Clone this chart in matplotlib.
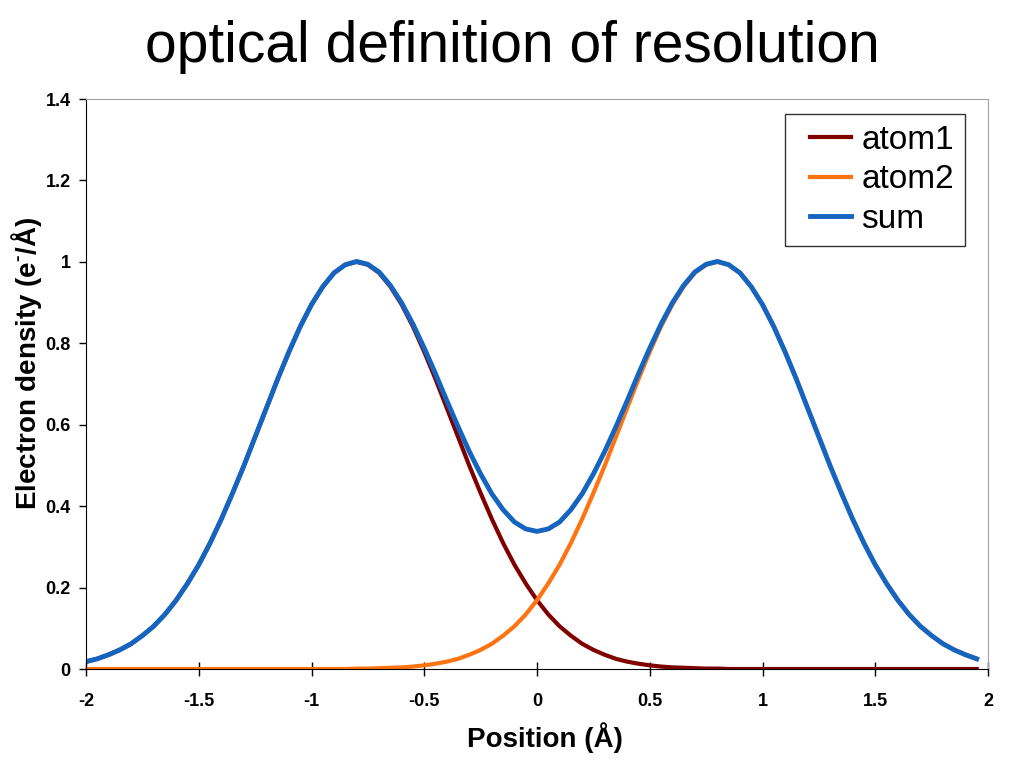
import matplotlib
matplotlib.use('Agg')
import matplotlib.pyplot as plt
from matplotlib.legend_handler import HandlerLine2D
import numpy as np

plt.rcParams['font.family'] = ['Liberation Sans', 'DejaVu Sans']
plt.rcParams['mathtext.fontset'] = 'custom'
plt.rcParams['mathtext.rm'] = 'Liberation Sans:bold'
plt.rcParams['mathtext.bf'] = 'Liberation Sans:bold'

# positions (A), step 0.05 from -2 to 1.95
position = np.round(np.arange(-2.0, 1.999, 0.05), 2)

atom1 = [0.018, 0.025, 0.035, 0.047, 0.062, 0.082, 0.105, 0.134, 0.169, 0.210,
         0.256, 0.309, 0.368, 0.432, 0.499, 0.570, 0.641, 0.712, 0.779, 0.841,
         0.895, 0.939, 0.973, 0.993, 1.000, 0.993, 0.973, 0.939, 0.895, 0.841,
         0.779, 0.712, 0.641, 0.570, 0.499, 0.432, 0.368, 0.309, 0.256, 0.210,
         0.169, 0.134, 0.105, 0.082, 0.062, 0.047, 0.035, 0.025, 0.018, 0.013,
         0.009, 0.006, 0.004, 0.003, 0.002, 0.001, 0.001, 0.0, 0.0, 0.0,
         0.0, 0.0, 0.0, 0.0, 0.0, 0.0, 0.0, 0.0, 0.0, 0.0,
         0.0, 0.0, 0.0, 0.0, 0.0, 0.0, 0.0, 0.0, 0.0, 0.0]

atom2 = [0.0, 0.0, 0.0, 0.0, 0.0, 0.0, 0.0, 0.0, 0.0, 0.0,
         0.0, 0.0, 0.0, 0.0, 0.0, 0.0, 0.0, 0.0, 0.0, 0.0,
         0.0, 0.0, 0.0, 0.0, 0.001, 0.001, 0.002, 0.003, 0.004, 0.006,
         0.009, 0.013, 0.018, 0.025, 0.035, 0.047, 0.062, 0.082, 0.105, 0.134,
         0.169, 0.210, 0.256, 0.309, 0.368, 0.432, 0.499, 0.570, 0.641, 0.712,
         0.779, 0.841, 0.895, 0.939, 0.973, 0.993, 1.000, 0.993, 0.973, 0.939,
         0.895, 0.841, 0.779, 0.712, 0.641, 0.570, 0.499, 0.432, 0.368, 0.309,
         0.256, 0.210, 0.169, 0.134, 0.105, 0.082, 0.062, 0.047, 0.035, 0.025]

total = [0.018, 0.025, 0.035, 0.047, 0.062, 0.082, 0.105, 0.134, 0.169, 0.210,
         0.256, 0.309, 0.368, 0.432, 0.499, 0.570, 0.641, 0.712, 0.779, 0.841,
         0.895, 0.939, 0.973, 0.993, 1.001, 0.994, 0.975, 0.942, 0.899, 0.847,
         0.788, 0.725, 0.659, 0.595, 0.534, 0.479, 0.430, 0.391, 0.361, 0.344,
         0.338, 0.344, 0.361, 0.391, 0.430, 0.479, 0.534, 0.595, 0.659, 0.725,
         0.788, 0.847, 0.899, 0.942, 0.975, 0.994, 1.001, 0.993, 0.973, 0.939,
         0.895, 0.841, 0.779, 0.712, 0.641, 0.570, 0.499, 0.432, 0.368, 0.309,
         0.256, 0.210, 0.169, 0.134, 0.105, 0.082, 0.062, 0.047, 0.035, 0.025]


class InsetLine(HandlerLine2D):
    # legend line drawn with some empty room on its left
    def create_artists(self, legend, orig_handle, xdescent, ydescent, width, height, fontsize, trans):
        arts = super().create_artists(legend, orig_handle, xdescent, ydescent, width, height, fontsize, trans)
        for a in arts:
            xd = np.asarray(a.get_xdata(), dtype=float)
            a.set_xdata(np.maximum(xd, xd.min() + 0.42 * fontsize))
        return arts


fig = plt.figure(figsize=(10.24, 7.68), dpi=100)
ax = fig.add_axes([86/1024, 1 - 669/768, (988-86)/1024, (669-99)/768])

ax.plot(position, atom1, color='#800000', lw=3, label='atom1')
ax.plot(position, atom2, color='#ff7410', lw=3, label='atom2')
ax.plot(position, total, color='#1565c0', lw=3.5, label='sum')

ax.set_xlim(-2, 2)
ax.set_ylim(0, 1.4)
ax.set_xticks([-2, -1.5, -1, -0.5, 0, 0.5, 1, 1.5, 2])
ax.set_xticklabels(['-2', '-1.5', '-1', '-0.5', '0', '0.5', '1', '1.5', '2'])
ax.set_yticks([0, 0.2, 0.4, 0.6, 0.8, 1, 1.2, 1.4])
ax.set_yticklabels(['0', '0.2', '0.4', '0.6', '0.8', '1', '1.2', '1.4'])
ax.tick_params(axis='x', direction='inout', length=10, width=1, pad=12, labelsize=13)
ax.tick_params(axis='y', direction='out', length=5, width=1, pad=6, labelsize=13)
for lab in ax.get_xticklabels() + ax.get_yticklabels():
    lab.set_fontweight('bold')

ax.spines['top'].set_color('#a0a0a0')
ax.spines['right'].set_color('#a0a0a0')
ax.spines['left'].set_color('black')
ax.spines['bottom'].set_color('black')

ax.set_xlabel('Position (Å)', fontsize=20, fontweight='bold', labelpad=9)
ax.xaxis.set_label_coords(0.509, -0.094)
ax.set_ylabel('Electron density (e$^{\\text{-}}$/Å)', fontsize=20, fontweight='bold')
ax.yaxis.set_label_coords(-0.047, 0.537)

leg = ax.legend(loc='upper right', bbox_to_anchor=(0.9745, 0.9737), borderaxespad=0,
                fontsize=24, frameon=True, fancybox=False, edgecolor='black',
                handlelength=1.65, handletextpad=0.3, labelspacing=0.25, borderpad=0.33,
                handler_map={matplotlib.lines.Line2D: InsetLine()})
leg.get_frame().set_linewidth(1)

fig.text(0.5, 1 - 62/768, 'optical definition of resolution', ha='center', va='baseline', fontsize=41)

fig.savefig('out.png', dpi=100)
